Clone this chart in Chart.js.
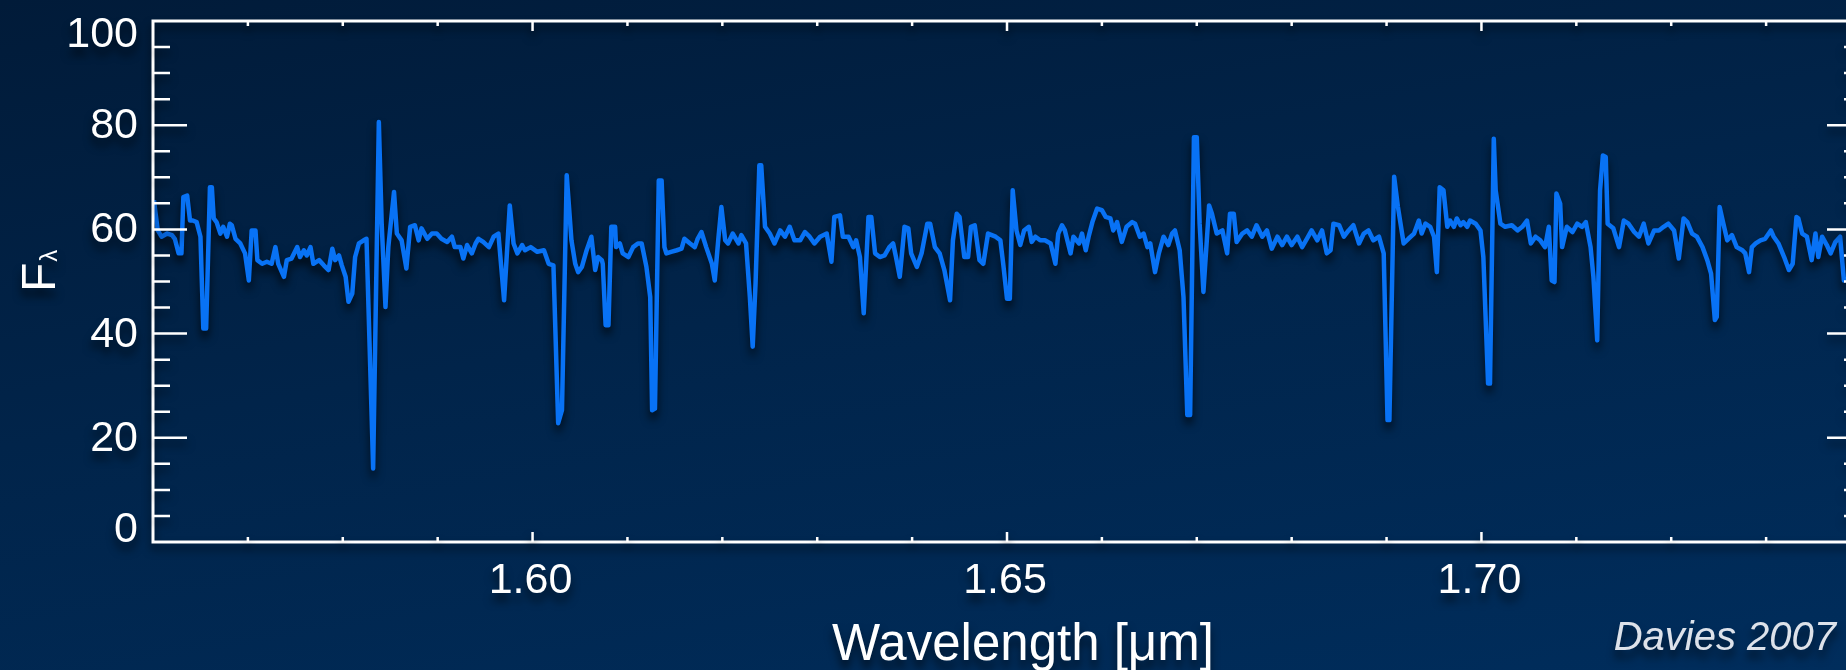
<!DOCTYPE html>
<html>
<head>
<meta charset="utf-8">
<title>H-band spectrum</title>
<script src="https://cdn.jsdelivr.net/npm/chart.js@4.4.1/dist/chart.umd.min.js"></script>
<style>
    html, body {
        margin: 0;
        padding: 0;
        width: 1846px;
        height: 670px;
        overflow: hidden;
        background: linear-gradient(170deg, #011b39 0%, #01244a 45%, #002d5c 100%);
    }
    #wrap {
        position: absolute;
        left: 0;
        top: 0;
        width: 1880px;
        height: 670px;
    }
</style>
</head>
<body>
<div id="wrap"><canvas id="spectrum" width="1880" height="670"></canvas></div>
<script>
// wavelength in micron
const wavelength = [
    1.5601, 1.5605, 1.5609, 1.5615, 1.5620, 1.5623, 1.5627, 1.5630, 1.5632, 1.5636,
    1.5639, 1.5642, 1.5646, 1.5650, 1.5653, 1.5656, 1.5660, 1.5662, 1.5664, 1.5667,
    1.5671, 1.5674, 1.5678, 1.5681, 1.5683, 1.5687, 1.5692, 1.5697, 1.5701, 1.5704,
    1.5708, 1.5710, 1.5715, 1.5720, 1.5725, 1.5729, 1.5732, 1.5738, 1.5741, 1.5746,
    1.5752, 1.5755, 1.5759, 1.5762, 1.5766, 1.5769, 1.5775, 1.5780, 1.5785, 1.5789,
    1.5792, 1.5796, 1.5799, 1.5803, 1.5806, 1.5810, 1.5813, 1.5817, 1.5822, 1.5825,
    1.5832, 1.5838, 1.5841, 1.5845, 1.5848, 1.5854, 1.5857, 1.5862, 1.5867, 1.5871,
    1.5876, 1.5880, 1.5883, 1.5889, 1.5894, 1.5899, 1.5904, 1.5910, 1.5915, 1.5918,
    1.5924, 1.5927, 1.5931, 1.5936, 1.5940, 1.5943, 1.5948, 1.5954, 1.5959, 1.5964,
    1.5970, 1.5976, 1.5980, 1.5984, 1.5989, 1.5992, 1.5998, 1.6005, 1.6012, 1.6017,
    1.6022, 1.6027, 1.6031, 1.6036, 1.6041, 1.6045, 1.6048, 1.6052, 1.6057, 1.6062,
    1.6066, 1.6069, 1.6073, 1.6074, 1.6077, 1.6080, 1.6083, 1.6087, 1.6088, 1.6092,
    1.6095, 1.6101, 1.6106, 1.6111, 1.6115, 1.6120, 1.6124, 1.6126, 1.6129, 1.6133,
    1.6136, 1.6139, 1.6141, 1.6146, 1.6152, 1.6157, 1.6160, 1.6166, 1.6171, 1.6174,
    1.6178, 1.6183, 1.6189, 1.6192, 1.6196, 1.6199, 1.6203, 1.6206, 1.6211, 1.6217,
    1.6220, 1.6225, 1.6229, 1.6232, 1.6235, 1.6239, 1.6241, 1.6245, 1.6250, 1.6255,
    1.6261, 1.6266, 1.6271, 1.6276, 1.6282, 1.6287, 1.6292, 1.6297, 1.6303, 1.6310,
    1.6315, 1.6318, 1.6324, 1.6327, 1.6333, 1.6338, 1.6341, 1.6345, 1.6349, 1.6354,
    1.6357, 1.6361, 1.6366, 1.6371, 1.6376, 1.6380, 1.6383, 1.6387, 1.6392, 1.6396,
    1.6399, 1.6405, 1.6410, 1.6416, 1.6419, 1.6424, 1.6429, 1.6434, 1.6440, 1.6443,
    1.6447, 1.6450, 1.6455, 1.6459, 1.6462, 1.6466, 1.6471, 1.6475, 1.6480, 1.6488,
    1.6493, 1.6496, 1.6500, 1.6503, 1.6506, 1.6510, 1.6514, 1.6518, 1.6523, 1.6526,
    1.6530, 1.6535, 1.6540, 1.6546, 1.6551, 1.6554, 1.6558, 1.6561, 1.6567, 1.6570,
    1.6576, 1.6579, 1.6583, 1.6586, 1.6590, 1.6595, 1.6600, 1.6604, 1.6609, 1.6612,
    1.6616, 1.6621, 1.6626, 1.6632, 1.6635, 1.6640, 1.6644, 1.6648, 1.6651, 1.6656,
    1.6660, 1.6665, 1.6670, 1.6674, 1.6677, 1.6682, 1.6686, 1.6690, 1.6693, 1.6697,
    1.6700, 1.6703, 1.6707, 1.6713, 1.6716, 1.6721, 1.6727, 1.6732, 1.6735, 1.6739,
    1.6742, 1.6748, 1.6753, 1.6758, 1.6763, 1.6769, 1.6774, 1.6779, 1.6785, 1.6790,
    1.6795, 1.6800, 1.6806, 1.6811, 1.6816, 1.6821, 1.6827, 1.6832, 1.6837, 1.6841,
    1.6844, 1.6850, 1.6855, 1.6860, 1.6865, 1.6871, 1.6876, 1.6881, 1.6886, 1.6892,
    1.6897, 1.6901, 1.6903, 1.6908, 1.6912, 1.6918, 1.6923, 1.6929, 1.6934, 1.6937,
    1.6941, 1.6946, 1.6950, 1.6953, 1.6956, 1.6960, 1.6964, 1.6967, 1.6971, 1.6974,
    1.6978, 1.6981, 1.6985, 1.6988, 1.6994, 1.6999, 1.7002, 1.7007, 1.7009, 1.7013,
    1.7015, 1.7020, 1.7025, 1.7032, 1.7038, 1.7043, 1.7048, 1.7052, 1.7057, 1.7062,
    1.7067, 1.7071, 1.7074, 1.7077, 1.7079, 1.7083, 1.7085, 1.7090, 1.7096, 1.7101,
    1.7106, 1.7110, 1.7115, 1.7118, 1.7122, 1.7125, 1.7128, 1.7131, 1.7133, 1.7139,
    1.7145, 1.7150, 1.7155, 1.7161, 1.7166, 1.7171, 1.7176, 1.7182, 1.7187, 1.7192,
    1.7197, 1.7203, 1.7208, 1.7213, 1.7217, 1.7222, 1.7227, 1.7233, 1.7238, 1.7242,
    1.7246, 1.7248, 1.7251, 1.7255, 1.7259, 1.7264, 1.7269, 1.7275, 1.7278, 1.7282,
    1.7285, 1.7289, 1.7294, 1.7299, 1.7305, 1.7308, 1.7313, 1.7319, 1.7324, 1.7328,
    1.7332, 1.7334, 1.7338, 1.7343, 1.7348, 1.7352, 1.7355, 1.7359, 1.7364, 1.7368,
    1.7373, 1.7378, 1.7382, 1.7384
];

// F_lambda, same order as wavelength
const flux = [
    65.6, 59.8, 58.6, 59.2, 58.9, 58.2, 55.4, 55.4, 66.2, 66.5,
    61.7, 61.7, 61.4, 58.6, 41.0, 41.0, 68.1, 68.1, 62.1, 61.4,
    59.2, 60.5, 58.6, 61.1, 60.8, 58.2, 57.3, 55.4, 50.2, 59.8,
    59.8, 54.1, 53.4, 53.8, 53.4, 56.6, 53.4, 50.9, 54.1, 54.4,
    56.6, 54.7, 56.0, 55.0, 56.6, 53.4, 54.1, 53.1, 52.2, 56.3,
    54.1, 55.0, 53.1, 50.9, 46.1, 47.7, 54.7, 57.3, 57.9, 58.2,
    14.1, 80.6, 61.1, 45.1, 56.6, 67.2, 59.2, 57.9, 52.5, 60.5,
    60.8, 57.9, 60.2, 58.2, 59.2, 59.2, 58.2, 57.6, 58.6, 56.6,
    56.6, 54.4, 57.0, 55.4, 57.3, 58.2, 57.6, 56.6, 58.6, 59.2,
    46.4, 64.6, 57.3, 55.4, 57.0, 56.0, 56.6, 55.7, 56.0, 53.4,
    53.1, 22.8, 25.3, 70.4, 57.9, 53.4, 51.8, 52.8, 56.0, 58.6,
    52.2, 54.7, 54.1, 53.4, 41.6, 41.6, 60.5, 60.5, 56.6, 57.3,
    55.4, 54.7, 56.6, 57.3, 57.3, 52.8, 47.0, 25.3, 25.6, 69.4,
    69.4, 56.6, 55.4, 55.7, 56.0, 56.3, 58.2, 57.3, 56.6, 58.2,
    59.5, 56.6, 53.4, 50.2, 58.6, 64.3, 57.9, 57.3, 59.2, 57.3,
    58.9, 57.3, 47.0, 37.5, 49.6, 72.3, 72.3, 60.5, 59.2, 57.3,
    59.8, 58.6, 60.5, 57.9, 57.9, 59.5, 58.6, 57.3, 58.6, 59.2,
    53.8, 62.4, 62.7, 58.6, 58.6, 56.6, 57.9, 54.7, 43.9, 62.4,
    62.4, 55.4, 54.7, 55.0, 56.6, 57.3, 54.7, 50.9, 60.5, 60.2,
    55.4, 52.8, 55.4, 61.1, 61.1, 56.6, 55.4, 52.2, 46.4, 57.9,
    63.0, 62.4, 54.7, 54.7, 60.5, 60.8, 54.1, 53.4, 59.2, 58.6,
    57.9, 53.4, 46.7, 46.7, 67.5, 59.8, 57.0, 59.8, 60.5, 57.6,
    58.6, 57.9, 57.9, 57.3, 53.4, 59.2, 60.8, 59.8, 55.4, 58.6,
    57.3, 59.2, 56.0, 58.6, 61.4, 64.0, 63.7, 62.4, 62.1, 59.8,
    61.4, 57.6, 60.5, 61.4, 61.1, 58.6, 59.2, 56.6, 57.3, 51.8,
    55.4, 58.6, 57.0, 59.2, 59.8, 56.0, 47.0, 24.4, 24.4, 77.7,
    77.7, 61.1, 48.0, 64.6, 63.0, 59.2, 59.8, 55.4, 63.0, 63.0,
    57.6, 59.2, 59.8, 58.6, 60.8, 58.6, 59.8, 56.3, 58.6, 57.0,
    58.6, 57.0, 58.6, 56.6, 58.2, 59.8, 57.9, 59.8, 55.4, 56.0,
    61.1, 60.8, 58.6, 59.8, 60.8, 57.3, 59.2, 59.8, 57.9, 58.6,
    55.4, 23.4, 23.4, 70.1, 64.3, 57.3, 58.2, 59.2, 61.7, 59.2,
    61.1, 60.5, 58.6, 51.8, 68.1, 67.5, 60.5, 61.7, 60.5, 62.1,
    60.8, 61.4, 60.5, 61.7, 61.1, 59.8, 54.7, 30.4, 30.4, 77.4,
    67.5, 61.1, 60.5, 60.8, 59.8, 60.5, 61.7, 57.3, 58.6, 57.9,
    56.6, 60.5, 50.2, 49.9, 66.9, 64.9, 56.6, 60.5, 59.5, 61.1,
    60.5, 61.4, 56.6, 50.9, 38.7, 67.5, 74.2, 73.9, 61.1, 60.2,
    56.6, 61.7, 61.1, 59.5, 58.6, 61.1, 57.3, 59.8, 59.8, 60.5,
    61.1, 59.8, 54.4, 62.1, 61.4, 59.2, 58.6, 56.6, 54.1, 51.5,
    42.6, 43.2, 64.3, 61.1, 57.9, 58.9, 56.6, 56.0, 55.4, 51.8,
    56.6, 57.3, 57.9, 58.2, 59.8, 58.6, 57.3, 54.7, 52.2, 53.4,
    62.4, 62.1, 59.2, 58.6, 54.1, 59.2, 54.7, 58.6, 57.0, 55.4,
    57.6, 58.6, 50.2, 50.9
];

// axis ranges and labelled ticks
const wavelengthRange = [1.56, 1.74];
const wavelengthTicks = [1.60, 1.65, 1.70];
const wavelengthMinorStep = 0.01;
const fluxRange = [0, 100];
const fluxTicks = [0, 20, 40, 60, 80, 100];
const fluxMinorStep = 5;

const FONT = '"Liberation Sans", Arial, Helvetica, sans-serif';

function setShadow(ctx, dy, alpha) {
    ctx.shadowColor = 'rgba(0, 0, 0, ' + alpha + ')';
    ctx.shadowBlur = 9;
    ctx.shadowOffsetX = 0;
    ctx.shadowOffsetY = dy;
}

// soft drop shadow under the spectrum line
const lineShadow = {
    id: 'lineShadow',
    beforeDatasetsDraw(chart) {
        chart.ctx.save();
        setShadow(chart.ctx, 7, 0.7);
    },
    afterDatasetsDraw(chart) {
        chart.ctx.restore();
    }
};

// box round the plot with inward ticks on all four sides
const frame = {
    id: 'frame',
    afterDatasetsDraw(chart) {
        const ctx = chart.ctx;
        const a = chart.chartArea;
        const xs = chart.scales.x;
        const ys = chart.scales.y;
        ctx.save();
        setShadow(ctx, 6, 0.6);
        ctx.strokeStyle = '#ffffff';
        ctx.lineWidth = 3;
        ctx.strokeRect(a.left, a.top, a.right - a.left, a.bottom - a.top);

        ctx.lineWidth = 2.5;
        ctx.beginPath();
        const nx = Math.round((wavelengthRange[1] - wavelengthRange[0]) / wavelengthMinorStep);
        for (let i = 1; i < nx; i++) {
            const v = +(wavelengthRange[0] + i * wavelengthMinorStep).toFixed(3);
            const major = wavelengthTicks.some(t => Math.abs(t - v) < 1e-6);
            const len = major ? 10 : 5;
            const px = xs.getPixelForValue(v);
            ctx.moveTo(px, a.bottom);
            ctx.lineTo(px, a.bottom - len);
            ctx.moveTo(px, a.top);
            ctx.lineTo(px, a.top + len);
        }
        const ny = Math.round((fluxRange[1] - fluxRange[0]) / fluxMinorStep);
        for (let i = 1; i < ny; i++) {
            const v = fluxRange[0] + i * fluxMinorStep;
            const len = fluxTicks.includes(v) ? 34 : 17;
            const py = ys.getPixelForValue(v);
            ctx.moveTo(a.left, py);
            ctx.lineTo(a.left + len, py);
            ctx.moveTo(a.right, py);
            ctx.lineTo(a.right - len, py);
        }
        ctx.stroke();
        ctx.restore();
    }
};

// tick labels, axis titles and the credit line
const labels = {
    id: 'labels',
    afterDraw(chart) {
        const ctx = chart.ctx;
        const a = chart.chartArea;
        const xs = chart.scales.x;
        const ys = chart.scales.y;
        ctx.save();
        setShadow(ctx, 8, 0.6);
        ctx.fillStyle = '#ffffff';
        ctx.textBaseline = 'alphabetic';

        ctx.font = '43px ' + FONT;
        ctx.textAlign = 'center';
        wavelengthTicks.forEach(v => {
            ctx.fillText(v.toFixed(2), xs.getPixelForValue(v) - 2, a.bottom + 51);
        });

        ctx.textAlign = 'right';
        fluxTicks.forEach(v => {
            let base = ys.getPixelForValue(v) + 13;
            base = Math.max(a.top + 26, Math.min(a.bottom, base));
            ctx.fillText(String(v), a.left - 15, base);
        });

        ctx.font = '51px ' + FONT;
        ctx.textAlign = 'center';
        ctx.fillText('Wavelength [\u03bcm]', (a.left + a.right) / 2 + 16, a.bottom + 118);

        // F with a lambda subscript, turned to read upwards
        ctx.save();
        ctx.translate(55, 292);
        ctx.rotate(-Math.PI / 2);
        ctx.textAlign = 'left';
        ctx.font = '48px ' + FONT;
        ctx.fillText('F', 0, 0);
        const fw = ctx.measureText('F').width;
        ctx.font = '24px ' + FONT;
        ctx.fillText('\u03bb', fw + 1, 2);
        ctx.restore();

        ctx.font = 'italic 300 40px ' + FONT;
        ctx.fillStyle = '#dde2ea';
        ctx.textAlign = 'right';
        ctx.fillText('Davies 2007', 1836, 650);
        ctx.restore();
    }
};

const points = wavelength.map((w, i) => ({ x: w, y: flux[i] }));

new Chart(document.getElementById('spectrum'), {
    type: 'line',
    data: {
        datasets: [{
            data: points,
            borderColor: '#0872f5',
            borderWidth: 4.5,
            borderJoinStyle: 'round',
            pointRadius: 0,
            tension: 0,
            fill: false
        }]
    },
    options: {
        responsive: false,
        devicePixelRatio: 1,
        animation: false,
        events: [],
        layout: {
            padding: { left: 0, top: 21, right: 19, bottom: 0 }
        },
        plugins: {
            legend: { display: false },
            tooltip: { enabled: false }
        },
        scales: {
            x: {
                type: 'linear',
                min: wavelengthRange[0],
                max: wavelengthRange[1],
                ticks: { display: false },
                grid: { display: false },
                border: { display: false },
                afterFit: s => { s.height = 128; }
            },
            y: {
                type: 'linear',
                min: fluxRange[0],
                max: fluxRange[1],
                ticks: { display: false },
                grid: { display: false },
                border: { display: false },
                afterFit: s => { s.width = 153; }
            }
        }
    },
    plugins: [lineShadow, frame, labels]
});
</script>
</body>
</html>
